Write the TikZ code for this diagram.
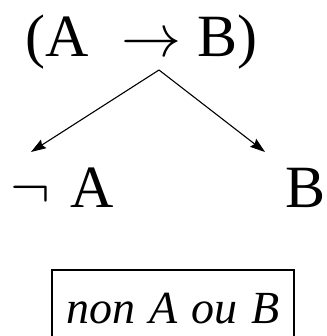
\RequirePackage{fix-cm}
\documentclass[tikz,border=0pt]{standalone}
\usepackage{fontspec}
\setmainfont{Liberation Serif}
\usetikzlibrary{arrows.meta}

\begin{document}
\begin{tikzpicture}[
    x=1pt, y=-1pt,
    >={Stealth[length=15pt,width=10pt,inset=2pt]},
    every node/.style={inner sep=0pt},
    formula/.style={font=\fontsize{60}{64}\selectfont, anchor=base west},
    reading/.style={font=\fontsize{46}{50}\selectfont\itshape, anchor=base}
]
\useasboundingbox (0,0) rectangle (326,336);

\node[formula] (impl) at (25,57) {(A\hspace{33pt}$\rightarrow$\hspace{16pt}B)};
\node[formula] (nega) at (10,207) {$\neg$\hspace{20pt}A};
\node[formula, anchor=base east] (b) at (326,207) {B};

\coordinate (apex) at (159,70);
\coordinate (tipl) at (31,152);
\coordinate (tipr) at (265,152);

\draw[->, line width=1.1pt] (apex)--(tipl);
\draw[->, line width=1.1pt] (apex)--(tipr);

% la lecture en francais
\node[reading, draw, line width=1.3pt, text height=53pt, text depth=25pt,
      minimum width=242pt] (lecture) at (173,323)
      {non\hspace{14pt}A\hspace{14pt}ou\hspace{14pt}B};
\end{tikzpicture}
\end{document}
